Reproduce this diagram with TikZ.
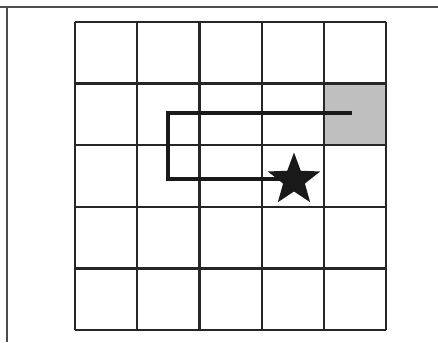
\documentclass[tikz,border=0pt]{standalone}
\usetikzlibrary{shapes.geometric}
\begin{document}
\begin{tikzpicture}[x=1pt,y=-1pt,
  gridline/.style={line width=2.2pt,draw=black!85},
  frameline/.style={line width=1.2pt,draw=black!70},
  route/.style={line width=4.2pt,draw=black!90},
  goal/.style={star,star points=5,star point ratio=2.4,fill=black!90,minimum size=55pt,inner sep=0pt}]
\useasboundingbox (0,0) rectangle (438,342);
\fill[white] (0,0) rectangle (438,342);
\draw[frameline] (0,7) -- (438,7);
\draw[frameline] (7,7) -- (7,342);
\fill[black!25] (324,84) rectangle (386,146);
\foreach \x in {75,137.2,199.4,261.6,323.8,386}
  \draw[gridline] (\x,22) -- (\x,330);
\foreach \y in {22,83.6,145.2,206.8,268.4,330}
  \draw[gridline] (75,\y) -- (386,\y);
\coordinate (s) at (352,113);
\coordinate (a) at (168,113);
\coordinate (b) at (168,179);
\coordinate (e) at (290,179);
\draw[route] (s) -- (a) -- (b) -- (e);
\node[goal] (g) at (294,180) {};
\end{tikzpicture}
\end{document}
